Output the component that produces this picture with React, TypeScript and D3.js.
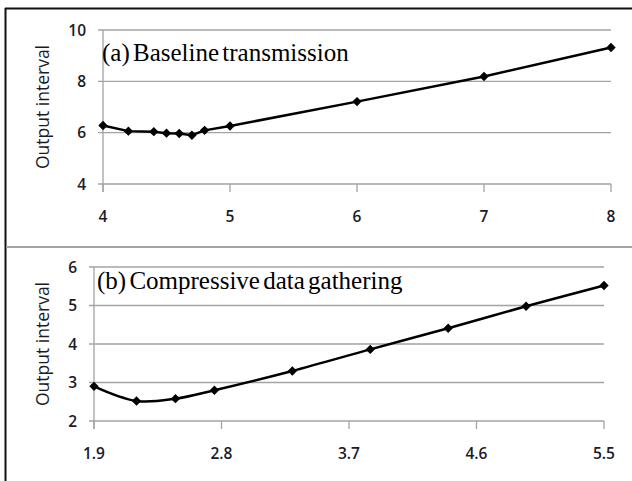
import React, { useEffect, useRef } from 'react';
import * as d3 from 'd3';

// panel (a): baseline transmission
const xA = [4, 4.2, 4.4, 4.5, 4.6, 4.7, 4.8, 5, 6, 7, 8];
const yA = [6.28, 6.06, 6.04, 5.98, 5.97, 5.9, 6.09, 6.26, 7.21, 8.19, 9.32];
const xTicksA = [4, 5, 6, 7, 8];
const yTicksA = [4, 6, 8, 10];

// panel (b): compressive data gathering
const xB = [1.9, 2.2, 2.475, 2.75, 3.3, 3.85, 4.4, 4.95, 5.5];
const yB = [2.9, 2.52, 2.58, 2.8, 3.3, 3.86, 4.41, 4.98, 5.52];
const xTicksB = ['1.9', '2.8', '3.7', '4.6', '5.5'];
const yTicksB = [2, 3, 4, 5, 6];

const titleA = '(a) Baseline transmission';
const titleB = '(b) Compressive data gathering';
const yLabel = 'Output interval';

const W = 632;
const H = 481;
const grid = '#a3a3a3';
const tickFont = '"Open Sans", sans-serif';

function drawPanel(svg, {
  xs, ys, xTicks, yTicks, xDomain, yDomain,
  left, right, top, bottom, title, curve,
}) {
  const x = d3.scaleLinear().domain(xDomain).range([left, right]);
  const y = d3.scaleLinear().domain(yDomain).range([bottom, top]);
  const g = svg.append('g');

  // horizontal gridlines + left ticks
  g.selectAll('.gl').data(yTicks).join('line')
    .attr('x1', left - 5).attr('x2', right)
    .attr('y1', d => y(d)).attr('y2', d => y(d))
    .attr('stroke', grid).attr('stroke-width', 1.3);

  // y axis line
  g.append('line')
    .attr('x1', left).attr('x2', left)
    .attr('y1', y(yDomain[1])).attr('y2', y(yDomain[0]) + 8)
    .attr('stroke', grid).attr('stroke-width', 1.3);

  // x ticks (down)
  g.selectAll('.xt').data(xTicks).join('line')
    .attr('x1', d => x(+d)).attr('x2', d => x(+d))
    .attr('y1', y(yDomain[0])).attr('y2', y(yDomain[0]) + 8)
    .attr('stroke', grid).attr('stroke-width', 1.3);

  g.selectAll('.yl').data(yTicks).join('text')
    .attr('x', left - 17).attr('y', d => y(d))
    .attr('dy', '0.36em')
    .attr('text-anchor', 'end')
    .attr('font-family', tickFont).attr('font-size', 15.5).attr('font-weight', 600)
    .attr('fill', '#1a1a28')
    .text(d => d);

  g.selectAll('.xl').data(xTicks).join('text')
    .attr('x', d => x(+d)).attr('y', y(yDomain[0]) + 32)
    .attr('dy', '0.36em')
    .attr('text-anchor', 'middle')
    .attr('font-family', tickFont).attr('font-size', 15.5).attr('font-weight', 600)
    .attr('fill', '#1a1a28')
    .text(d => d);

  g.append('text')
    .attr('transform', `translate(43,${(top + bottom) / 2}) rotate(-90)`)
    .attr('dy', '0.36em')
    .attr('text-anchor', 'middle')
    .attr('font-family', tickFont).attr('font-size', 17.5).attr('font-weight', 500)
    .attr('fill', '#1a1a28')
    .text(yLabel);

  const line = d3.line()
    .x(d => x(d[0])).y(d => y(d[1]))
    .curve(curve);
  const pts = xs.map((v, i) => [v, ys[i]]);

  g.append('path')
    .attr('d', line(pts))
    .attr('fill', 'none')
    .attr('stroke', '#000')
    .attr('stroke-width', 2.5);

  const sym = d3.symbol(d3.symbolSquare, 44);
  g.selectAll('.mk').data(pts).join('path')
    .attr('d', sym())
    .attr('transform', d => `translate(${x(d[0])},${y(d[1])}) rotate(45)`)
    .attr('fill', '#000');

  g.append('text')
    .attr('x', left + title.start).attr('y', title.baseline)
    .attr('font-family', '"Liberation Serif", "Times New Roman", serif')
    .attr('font-size', 25)
    .attr('word-spacing', -3)
    .attr('fill', '#000')
    .text(title.text);
}

export default function App() {
  const ref = useRef(null);

  useEffect(() => {
    const svg = d3.select(ref.current);
    svg.selectAll('*').remove();

    svg.append('rect').attr('width', W).attr('height', H).attr('fill', '#fff');

    // frame
    svg.append('line').attr('x1', 5).attr('x2', W).attr('y1', 8.5).attr('y2', 8.5)
      .attr('stroke', '#111').attr('stroke-width', 2);
    svg.append('line').attr('x1', 5.5).attr('x2', 5.5).attr('y1', 8).attr('y2', H)
      .attr('stroke', '#111').attr('stroke-width', 2);
    svg.append('line').attr('x1', 6).attr('x2', W).attr('y1', 247).attr('y2', 247)
      .attr('stroke', grid).attr('stroke-width', 1.8);

    drawPanel(svg, {
      xs: xA, ys: yA, xTicks: xTicksA, yTicks: yTicksA,
      xDomain: [4, 8], yDomain: [4, 10],
      left: 103, right: 611, top: 30, bottom: 184,
      title: { text: titleA, start: -1, baseline: 61 },
      curve: d3.curveLinear,
    });

    drawPanel(svg, {
      xs: xB, ys: yB, xTicks: xTicksB, yTicks: yTicksB,
      xDomain: [1.9, 5.5], yDomain: [2, 6],
      left: 94, right: 604, top: 267, bottom: 421,
      title: { text: titleB, start: 3, baseline: 289 },
      curve: d3.curveCatmullRom.alpha(0.5),
    });
  }, []);

  return (
    <div style={{ position: 'absolute', left: 0, top: 0 }}>
      <svg ref={ref} width={W} height={H} style={{ display: 'block' }} />
    </div>
  );
}
